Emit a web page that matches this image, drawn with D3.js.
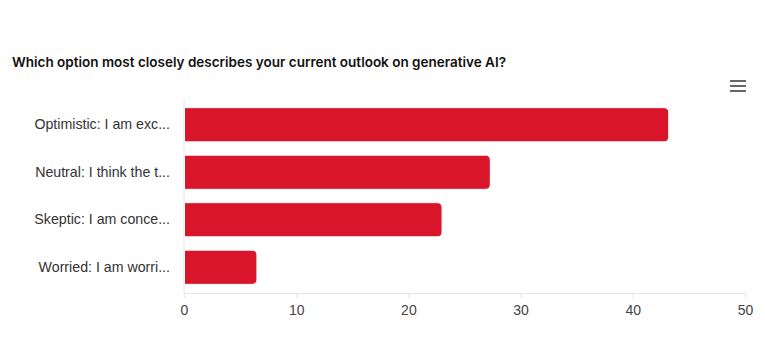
<!DOCTYPE html>
<html><head><meta charset="utf-8">
<script src="https://cdn.jsdelivr.net/npm/d3@7"></script>
<style>body{margin:0;background:#fff;}svg{display:block;}</style>
</head><body><div id="chart"></div>
<script>
const title = "Which option most closely describes your current outlook on generative AI?";
const categories = ["Optimistic: I am exc...", "Neutral: I think the t...", "Skeptic: I am conce...", "Worried: I am worri..."];
const values = [43.2, 27.3, 23.0, 6.5];
const xTicks = [0, 10, 20, 30, 40, 50];

const W = 765, H = 355;
const m = {left: 184, right: 20, top: 101, bottom: 62};
const svg = d3.select("#chart").append("svg").attr("width", W).attr("height", H);

svg.append("text").attr("x", 12).attr("y", 67).text(title)
  .attr("font-family", "Inter, 'Open Sans', sans-serif").attr("font-weight", 600)
  .attr("font-size", 13.5).attr("fill", "#111");

// menu icon
const menu = svg.append("g").attr("stroke", "#666").attr("stroke-width", 2);
[81, 86, 91].forEach(y => menu.append("line").attr("x1", 730).attr("x2", 746).attr("y1", y).attr("y2", y));

const x = d3.scaleLinear().domain([0, 50]).range([m.left, 745]);
const y = d3.scaleBand().domain(categories).range([m.top, 291]).paddingInner(0.28).paddingOuter(0.14);

// axes
const gx = svg.append("g").attr("transform", `translate(0,293)`)
  .call(d3.axisBottom(x).tickValues(xTicks).tickSize(5).tickPadding(7).tickSizeOuter(0));
gx.select(".domain").attr("stroke", "#e6e6e6");
gx.selectAll(".tick line").attr("stroke", "#e6e6e6");
gx.selectAll("text").attr("font-family", "'Liberation Sans', Arial, sans-serif").attr("font-size", 14).attr("fill", "#444");

svg.append("line").attr("x1", m.left).attr("x2", m.left).attr("y1", m.top - 2).attr("y2", 293)
  .attr("stroke", "#e6e6e6");

const gy = svg.append("g").attr("transform", `translate(${m.left},0)`)
  .call(d3.axisLeft(y).tickSize(0).tickPadding(14));
gy.select(".domain").remove();
gy.selectAll("text").attr("font-family", "'Liberation Sans', Arial, sans-serif").attr("font-size", 14.2).attr("fill", "#333");

const r = 5;
svg.append("g").selectAll("path").data(values).join("path")
  .attr("fill", "#d8152b").attr("stroke", "#fff").attr("stroke-width", 1)
  .attr("d", (d, i) => {
    const x0 = x(0) + 0.5, x1 = x(d), y0 = y(categories[i]), h = y.bandwidth();
    return `M${x0},${y0}H${x1 - r}Q${x1},${y0} ${x1},${y0 + r}V${y0 + h - r}Q${x1},${y0 + h} ${x1 - r},${y0 + h}H${x0}Z`;
  });
</script></body></html>
